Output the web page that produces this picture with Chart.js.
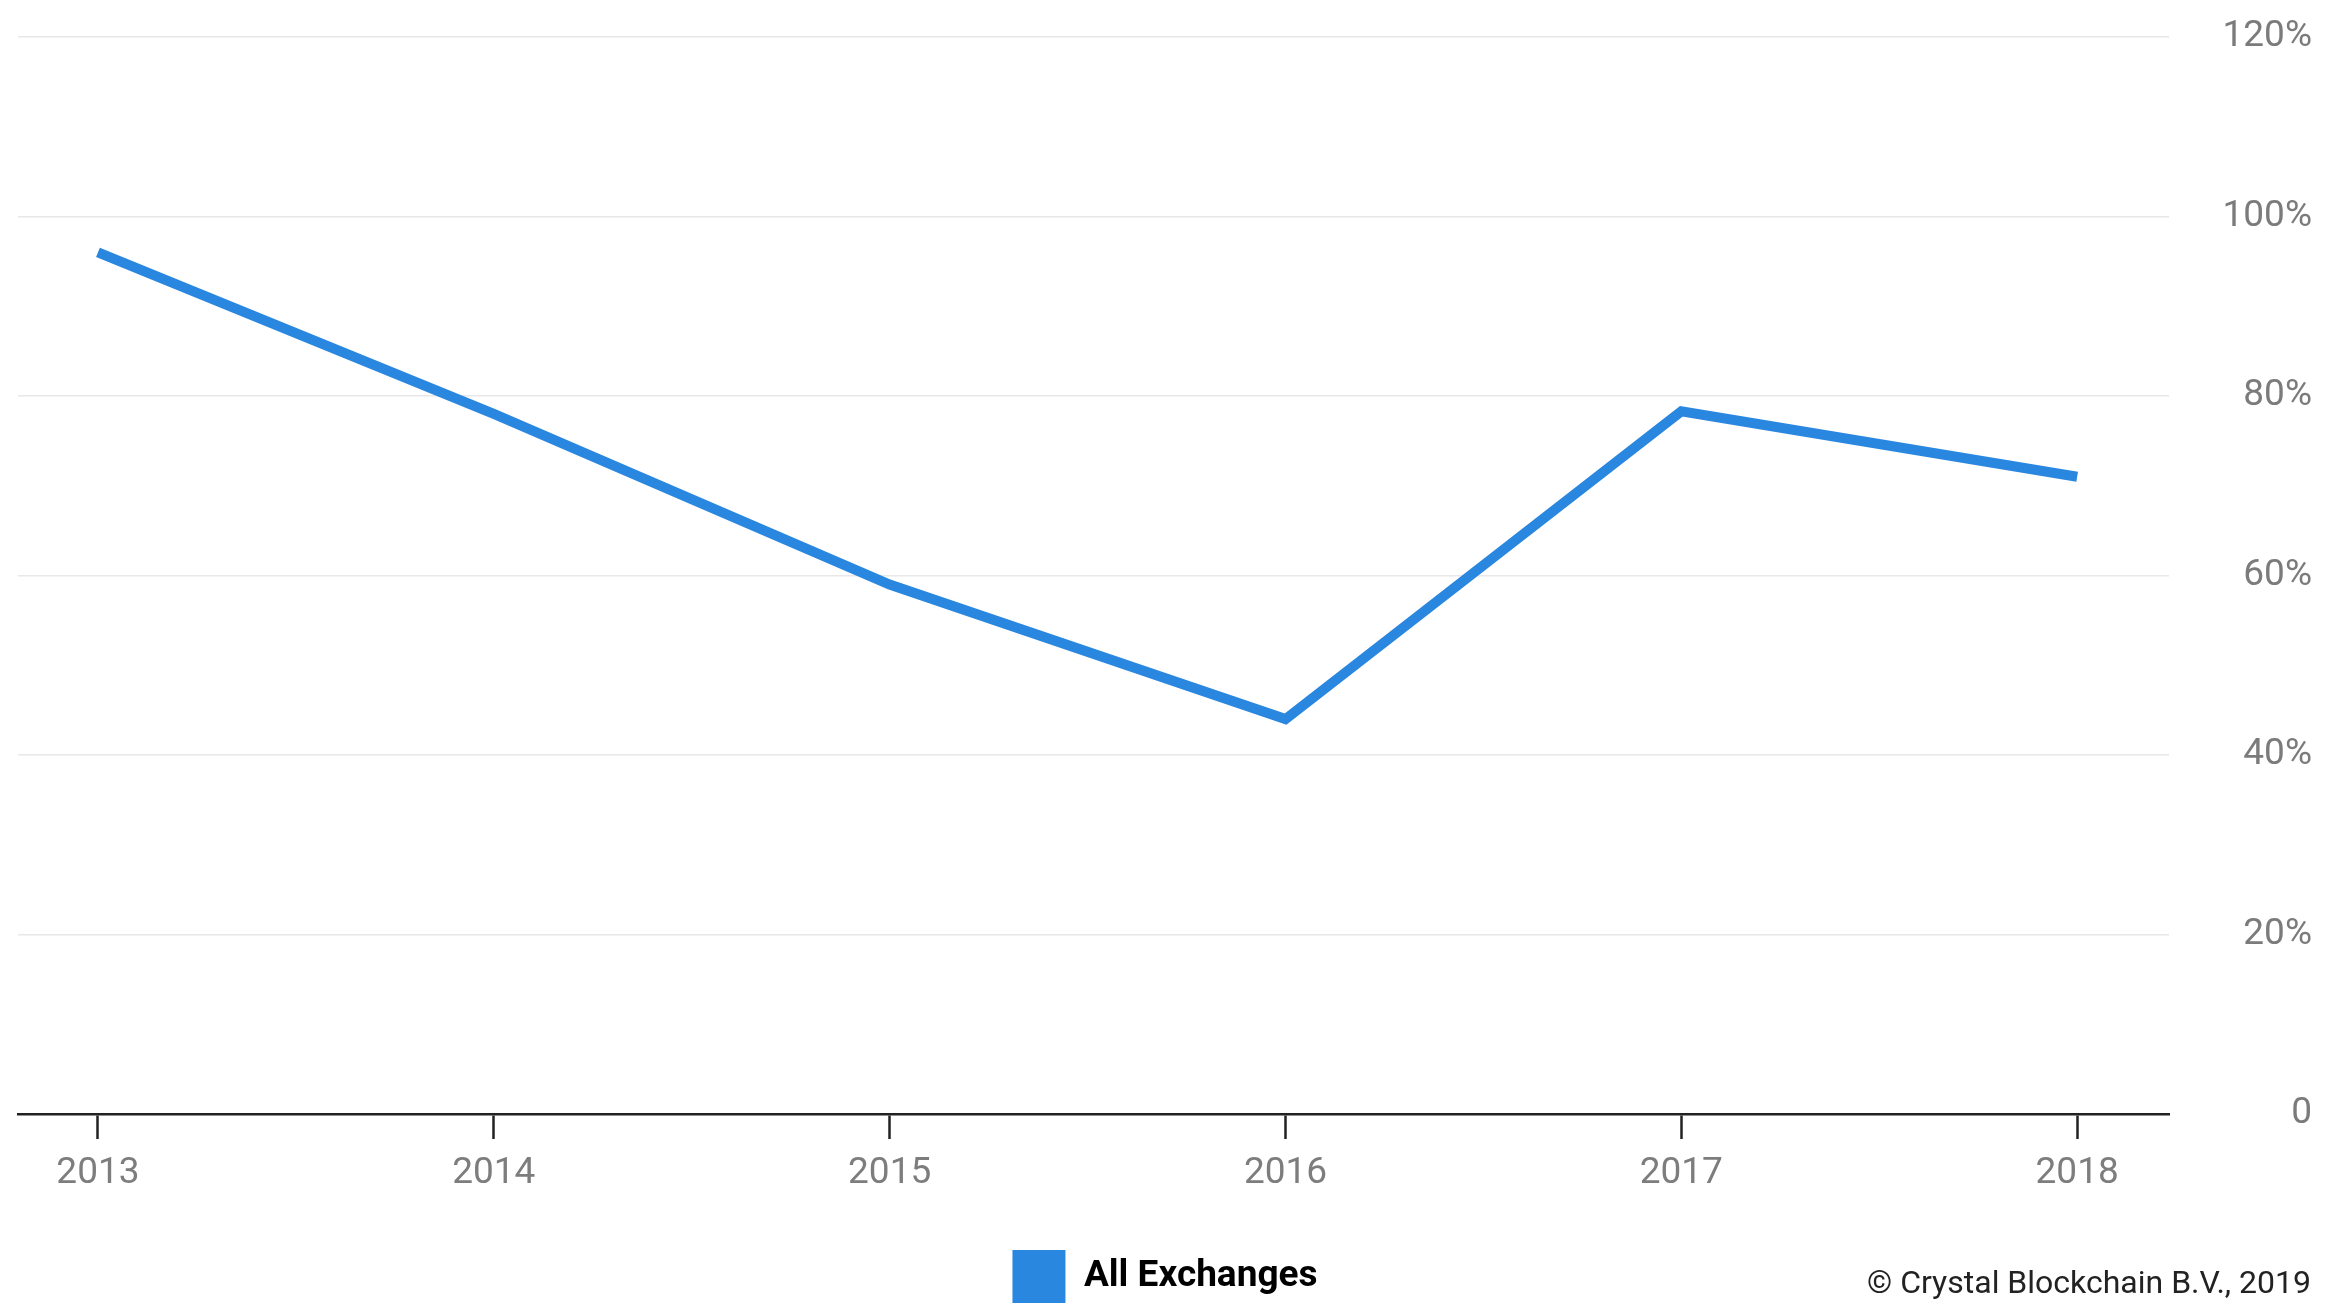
<!DOCTYPE html>
<html>
<head>
<meta charset="utf-8">
<script src="https://cdn.jsdelivr.net/npm/chart.js@4"></script>
<style>
  html, body { margin: 0; padding: 0; background: #fff; }
  #wrap { position: relative; width: 2329px; height: 1306px; }
  #c { position: absolute; left: 0; top: 0; }
  #credit { position: absolute; right: 18px; top: 1262px; font-family: Roboto, sans-serif; font-size: 32px; color: #222; white-space: nowrap; line-height: 40px; }
</style>
</head>
<body>
<div id="wrap">
  <canvas id="c" width="2329" height="1306"></canvas>
  <div id="credit">© Crystal Blockchain B.V., 2019</div>
</div>
<script>
const years = [2013, 2014, 2015, 2016, 2017, 2018];
const yearLabels = ['2013', '2014', '2015', '2016', '2017', '2018'];
const allExchanges = [96, 78, 59, 44, 78.3, 71];
const yTickValues = [0, 20, 40, 60, 80, 100, 120];
const yTickLabels = ['0', '20%', '40%', '60%', '80%', '100%', '120%'];
const seriesName = 'All Exchanges';

const points = years.map((yr, i) => ({ x: yr, y: allExchanges[i] }));

new Chart(document.getElementById('c'), {
  type: 'line',
  data: {
    datasets: [{
      label: seriesName,
      data: points,
      borderColor: '#2a87df',
      backgroundColor: '#2a87df',
      borderWidth: 10,
      borderCapStyle: 'butt',
      borderJoinStyle: 'miter',
      pointRadius: 0,
      pointHoverRadius: 0,
      tension: 0,
      fill: false
    }]
  },
  options: {
    responsive: false,
    animation: false,
    events: [],
    layout: { padding: { top: 37, left: 18, right: 17, bottom: -7 } },
    plugins: {
      tooltip: { enabled: false },
      legend: {
        position: 'bottom',
        labels: {
          boxWidth: 53,
          boxHeight: 53,
          padding: 0,
          color: '#222',
          font: { family: 'Roboto', size: 37, weight: 'bold' },
          generateLabels: (chart) => [{
            text: seriesName,
            fillStyle: '#2a87df',
            strokeStyle: '#2a87df',
            lineWidth: 0,
            datasetIndex: 0
          }]
        }
      }
    },
    scales: {
      x: {
        type: 'linear',
        min: 2012.798,
        max: 2018.232,
        afterBuildTicks: (s) => { s.ticks = years.map(v => ({ value: v })); },
        afterFit: (s) => { s.height = 136; },
        grid: { display: true, drawOnChartArea: false, drawTicks: true, tickLength: 25, tickColor: '#222', tickWidth: 2.5 },
        border: { display: true, color: '#222', width: 2.5 },
        ticks: {
          padding: 13,
          maxRotation: 0,
          autoSkip: false,
          color: '#7d7d7d',
          font: { family: 'Roboto', size: 37 },
          callback: (v) => { const i = years.indexOf(v); return i >= 0 ? yearLabels[i] : ''; }
        }
      },
      y: {
        position: 'right',
        min: 0,
        max: 120,
        afterBuildTicks: (s) => { s.ticks = yTickValues.map(v => ({ value: v })); },
        afterFit: (s) => { s.width = 143; },
        grid: { color: '#e8e8e8', lineWidth: 1.5, drawTicks: false },
        border: { display: false },
        ticks: {
          padding: 0,
          crossAlign: 'far',
          color: '#7b7b7b',
          font: { family: 'Roboto', size: 37 },
          callback: (v) => { const i = yTickValues.indexOf(v); return i >= 0 ? yTickLabels[i] : ''; }
        }
      }
    }
  }
});
</script>
</body>
</html>
